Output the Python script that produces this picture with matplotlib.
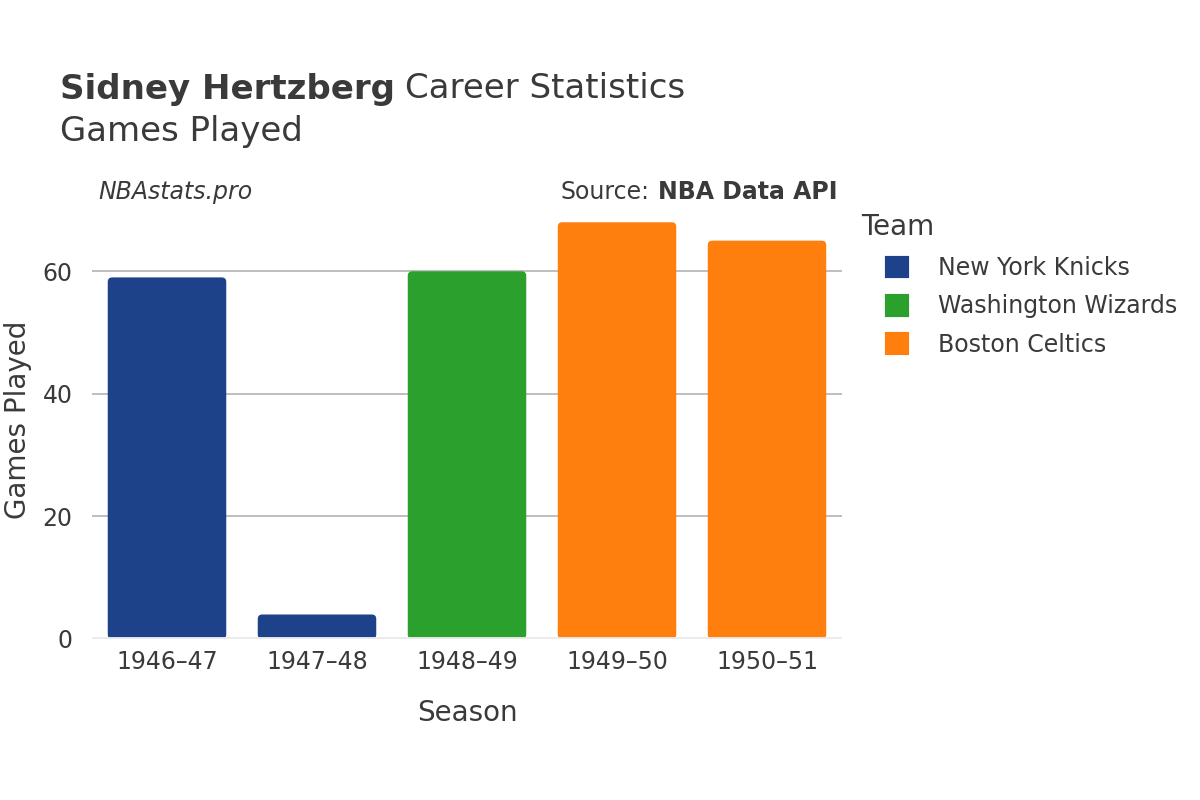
import matplotlib.pyplot as plt
from matplotlib.patches import FancyBboxPatch, Patch

# data
seasons = ['1946–47', '1947–48', '1948–49', '1949–50', '1950–51']
games = [59, 4, 60, 68, 65]
teams = ['New York Knicks', 'New York Knicks', 'Washington Wizards', 'Boston Celtics', 'Boston Celtics']
team_order = ['New York Knicks', 'Washington Wizards', 'Boston Celtics']
team_colors = {'New York Knicks': '#1d428a', 'Washington Wizards': '#2ca02c', 'Boston Celtics': '#ff7f0e'}
yticks = [0, 20, 40, 60]

txt = '#3a3a3a'
fig = plt.figure(figsize=(12, 8), dpi=100)
ax = fig.add_axes([92 / 1200, 1 - 639 / 800, 750 / 1200, 429 / 800])

x = list(range(len(seasons)))
bars = ax.bar(x, games, width=0.79, color=[team_colors[t] for t in teams], zorder=2)

# swap plain bars for slightly rounded ones
aspect = (150 / 6.13)
for b in bars:
    bx, by = b.get_x(), b.get_y()
    w, h = b.get_width(), b.get_height()
    p = FancyBboxPatch((bx, by), w, h, boxstyle='round,pad=0,rounding_size=0.03',
                       mutation_aspect=aspect, facecolor=b.get_facecolor(),
                       edgecolor='none', zorder=2)
    b.remove()
    ax.add_patch(p)

ax.set_xlim(-0.5, 4.5)
ax.set_ylim(0, 70)
ax.set_xticks(x)
ax.set_xticklabels(seasons)
ax.set_yticks(yticks)
ax.tick_params(axis='both', length=0, labelsize=17, colors=txt)
ax.tick_params(axis='x', pad=8)
ax.tick_params(axis='y', pad=14)
for s in ax.spines.values():
    s.set_visible(False)
for v in yticks[1:]:
    ax.axhline(v, color='#b3b3b3', lw=1.2, zorder=1)
ax.axhline(0, color='#ebebeb', lw=3.5, zorder=3)

ax.set_xlabel('Season', fontsize=20, color=txt)
ax.xaxis.set_label_coords(0.5, -(699 - 639) / 429)
ax.set_ylabel('Games Played', fontsize=20, color=txt)
ax.yaxis.set_label_coords(-(92 - 32) / 750, (639 - 420) / 429)

fig.text(60 / 1200, 1 - 89 / 800, 'Sidney Hertzberg', fontsize=24.5, fontweight='bold',
         color=txt, va='center')
fig.text(405 / 1200, 1 - 89 / 800, 'Career Statistics', fontsize=24.5, color=txt, va='center')
fig.text(60 / 1200, 1 - 132 / 800, 'Games Played', fontsize=24.5, color=txt, va='center')

fig.text(98 / 1200, 1 - 192 / 800, 'NBAstats.pro', fontsize=17, style='italic', color=txt, va='center')
fig.text(650 / 1200, 1 - 192 / 800, 'Source:', fontsize=17, color=txt, va='center', ha='right')
fig.text(838 / 1200, 1 - 192 / 800, 'NBA Data API', fontsize=17, fontweight='bold', color=txt,
         va='center', ha='right')

fig.text(861 / 1200, 1 - 227 / 800, 'Team', fontsize=20, color=txt, va='center')
handles = [Patch(facecolor=team_colors[t], edgecolor=team_colors[t], lw=3,
                 joinstyle='round', label=t) for t in team_order]
leg = fig.legend(handles=handles, loc='upper left',
                 bbox_to_anchor=(866 / 1200, 1 - 235 / 800), frameon=False,
                 fontsize=17, handlelength=0.85, handleheight=0.85,
                 handletextpad=1.3, labelspacing=0.6)
for t in leg.get_texts():
    t.set_color(txt)

fig.savefig('out.png')
